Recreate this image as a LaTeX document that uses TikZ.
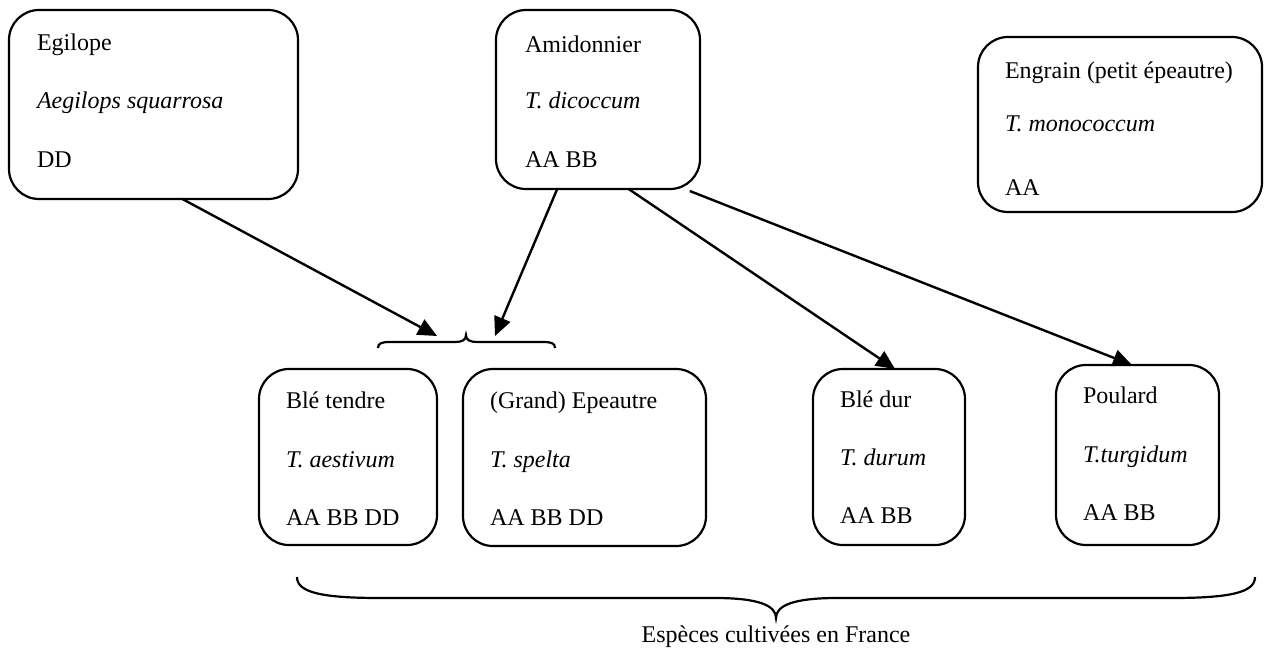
\documentclass[tikz,border=0pt]{standalone}
\usepackage{fontspec}
\setmainfont{Liberation Serif}
\usetikzlibrary{arrows.meta,calc}
\begin{document}
\begin{tikzpicture}[x=1pt,y=-1pt,
  box/.style={draw,line width=2.2pt,rounded corners=30pt,anchor=north west,inner sep=0pt,outer sep=0pt},
  txt/.style={anchor=base west,inner sep=0pt,outer sep=0pt,font=\fontsize{24}{28}\selectfont},
  arr/.style={line width=2.4pt,-{Triangle[length=19pt,width=17pt]}},
  brace/.style={line width=2.2pt}]
\useasboundingbox (0,0) rectangle (1265,648);
% boxes
\node[box,minimum width=289pt,minimum height=189pt] (egi) at (9,10) {};
\node[box,minimum width=204pt,minimum height=179pt] (ami) at (496,10) {};
\node[box,minimum width=284pt,minimum height=175pt] (eng) at (978,37) {};
\node[box,minimum width=178pt,minimum height=176pt] (bt) at (259,369) {};
\node[box,minimum width=243pt,minimum height=177pt] (ge) at (463,369) {};
\node[box,minimum width=152pt,minimum height=176pt] (bd) at (813,369) {};
\node[box,minimum width=163pt,minimum height=180pt] (pou) at (1056,365) {};
% texts
\node[txt] (egi1) at (37,50) {Egilope};
\node[txt] (egi2) at (37,108) {\itshape Aegilops squarrosa};
\node[txt] (egi3) at (37,167) {DD};
\node[txt] (ami1) at (525,52) {Amidonnier};
\node[txt] (ami2) at (525,108) {\itshape T. dicoccum};
\node[txt] (ami3) at (525,167) {AA BB};
\node[txt] (eng1) at (1005,78) {Engrain (petit épeautre)};
\node[txt] (eng2) at (1005,131) {\itshape T. monococcum};
\node[txt] (eng3) at (1005,195) {AA};
\node[txt] (bt1) at (286,408) {Blé tendre};
\node[txt] (bt2) at (286,467) {\itshape T. aestivum};
\node[txt] (bt3) at (286,525) {AA BB DD};
\node[txt] (ge1) at (490,408) {(Grand) Epeautre};
\node[txt] (ge2) at (490,467) {\itshape T. spelta};
\node[txt] (ge3) at (490,525) {AA BB DD};
\node[txt] (bd1) at (840,407) {Blé dur};
\node[txt] (bd2) at (840,465) {\itshape T. durum};
\node[txt] (bd3) at (840,523) {AA BB};
\node[txt] (pou1) at (1083,403) {Poulard};
\node[txt] (pou2) at (1083,462) {\itshape T.turgidum};
\node[txt] (pou3) at (1083,520) {AA BB};
% small brace
\draw[brace] (378,348) .. controls (378,343) and (382,342) .. (390,342) -- (455,342)
  .. controls (462,342) and (466,340) .. (466,335)
  .. controls (466,340) and (470,342) .. (477,342) -- (543,342)
  .. controls (551,342) and (555,343) .. (555,348);
\coordinate (ja) at (437,336);
\coordinate (jb) at (495,336);
% big brace
\draw[brace] (297,577) .. controls (297,592) and (320,598) .. (380,598) -- (715,598)
  .. controls (760,598) and (776,606) .. (776,618)
  .. controls (776,606) and (792,598) .. (837,598) -- (1172,598)
  .. controls (1232,598) and (1255,592) .. (1255,577);
\node[anchor=base,inner sep=0pt,font=\fontsize{24}{28}\selectfont] (fr) at (776,642) {Espèces cultivées en France};
% arrows
\draw[arr] ($(egi.south west)!0.60!(egi.south east)$) -- (ja);
\draw[arr] ($(ami.south west)!0.30!(ami.south east)$) -- (jb);
\draw[arr] ($(ami.south west)!0.65!(ami.south east)$) -- ($(bd.north west)!0.54!(bd.north east)$);
\draw[arr] ($(ami.south west)!0.95!(ami.south east)+(0,2)$) -- ($(pou.north west)!0.466!(pou.north east)$);
\end{tikzpicture}
\end{document}
